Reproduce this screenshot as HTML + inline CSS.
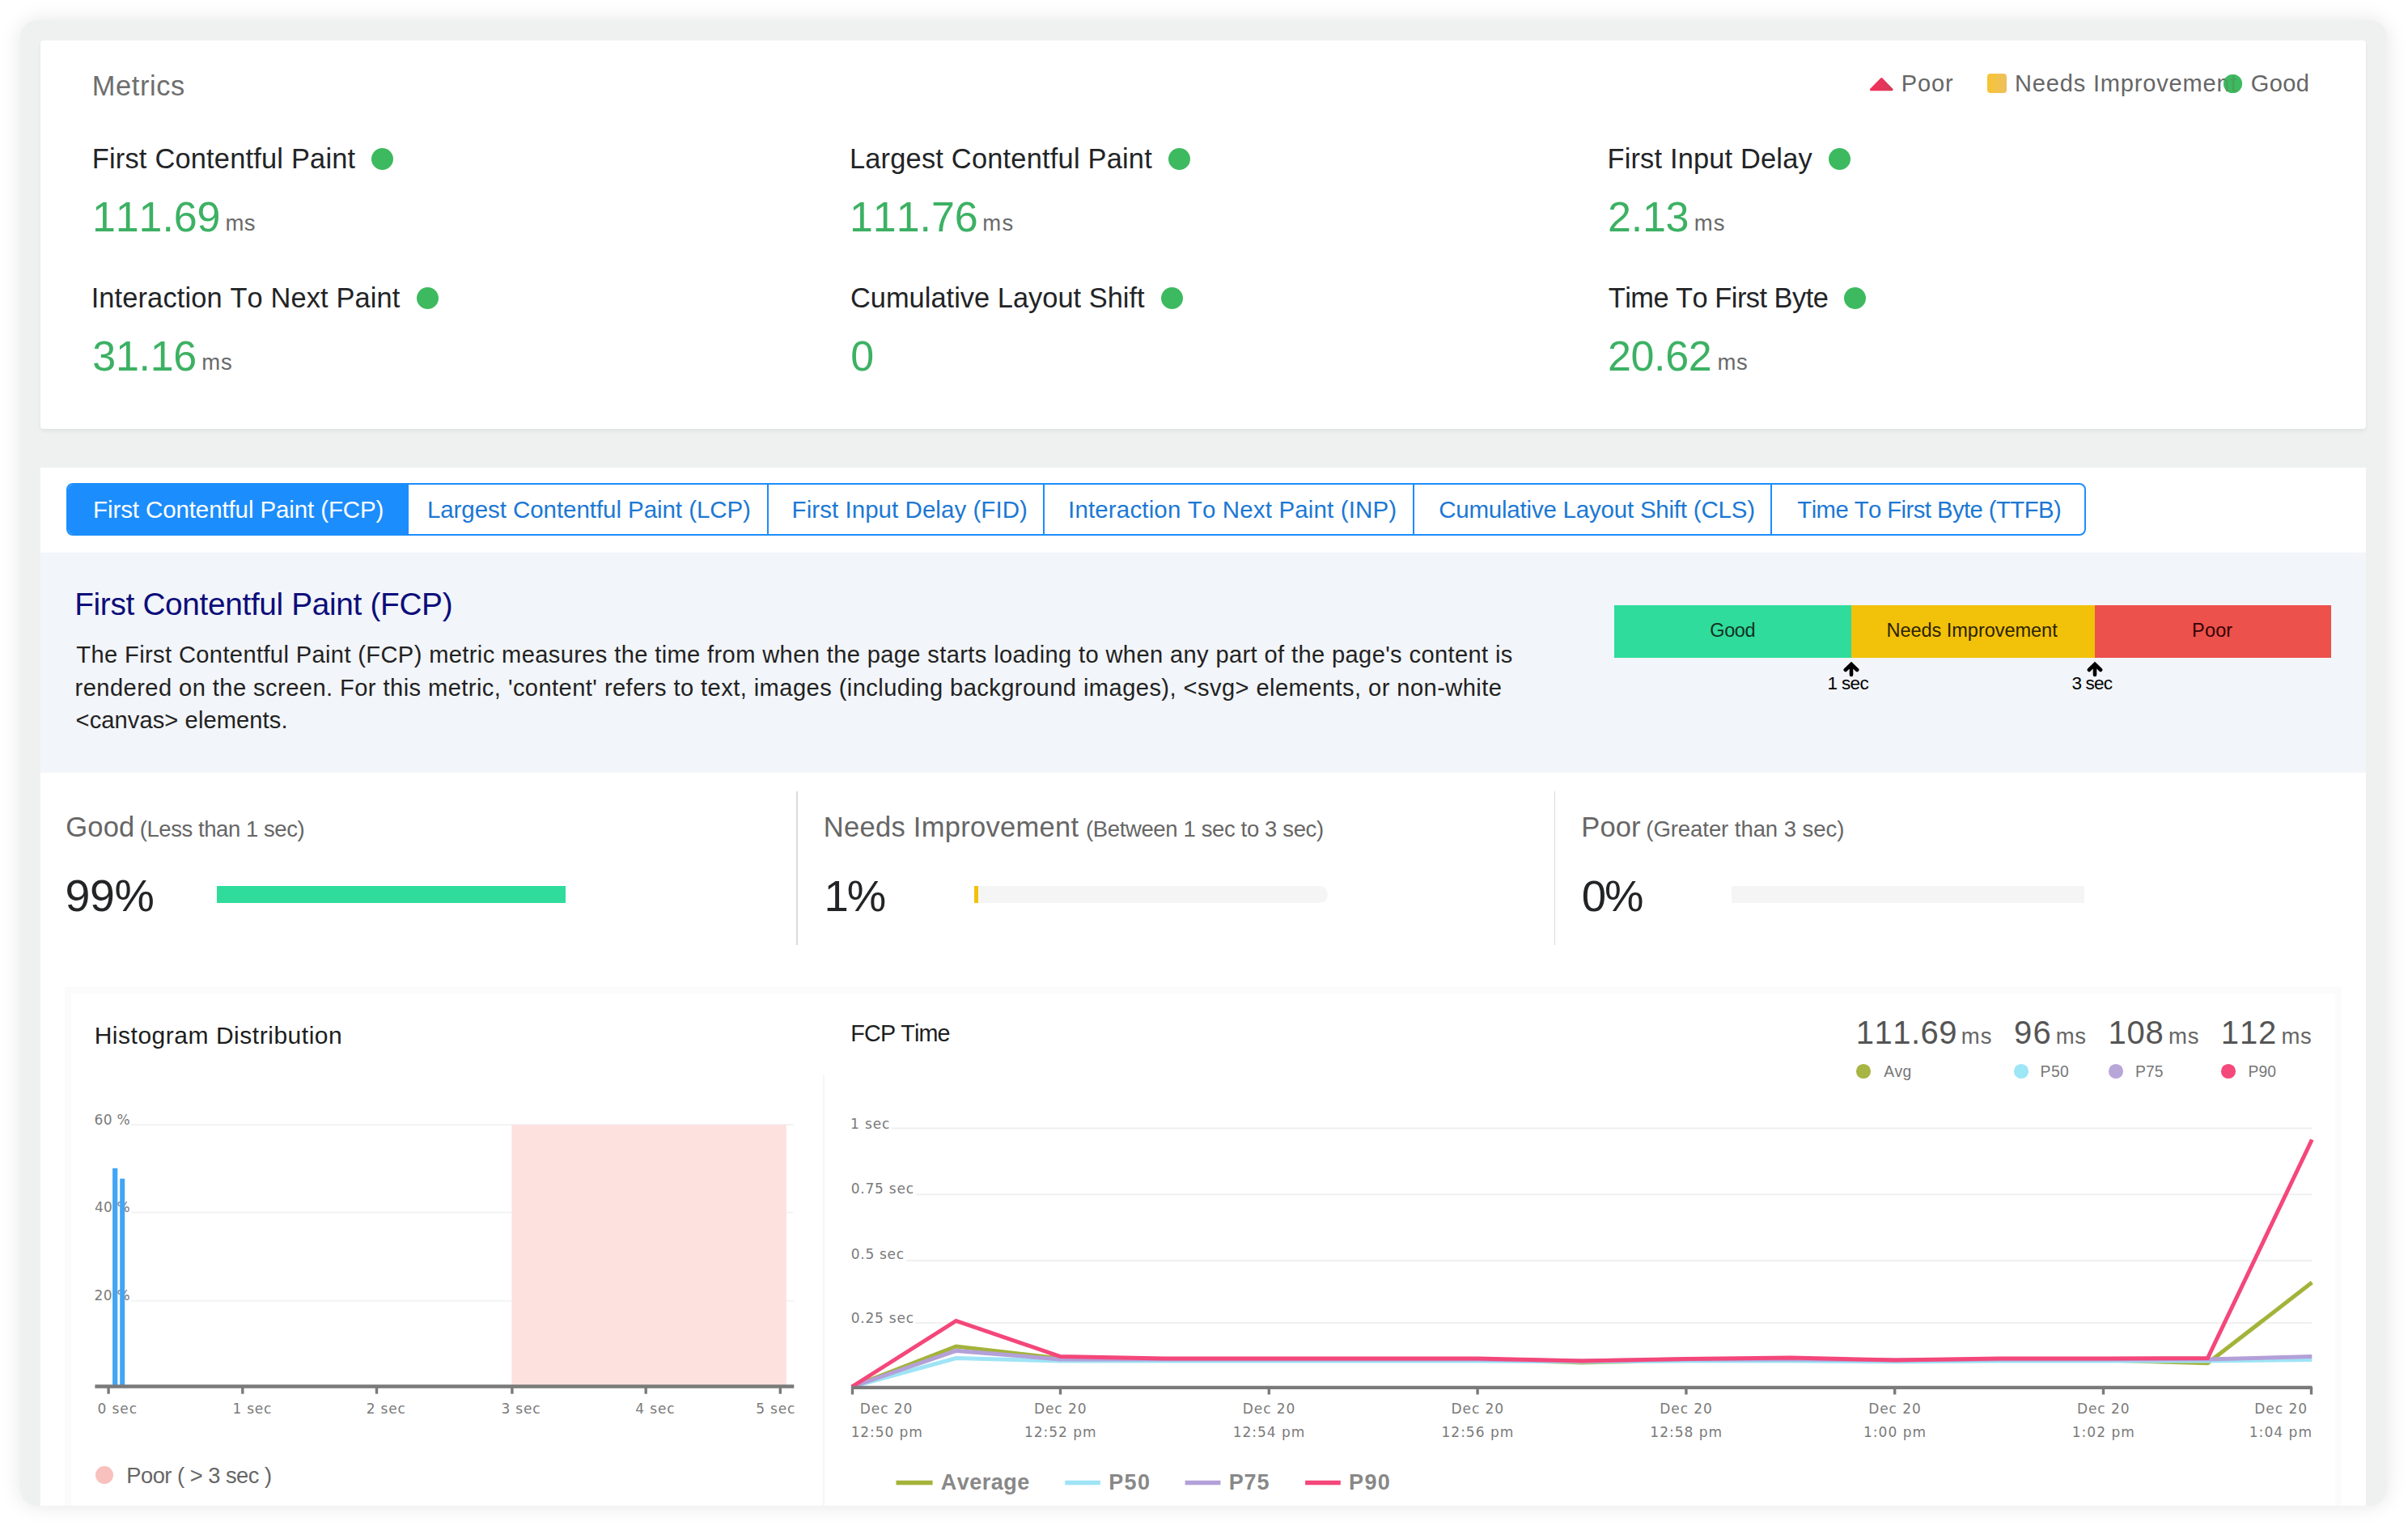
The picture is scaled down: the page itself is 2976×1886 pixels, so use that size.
<!DOCTYPE html>
<html lang="en"><head><meta charset="utf-8"><title>Metrics</title>
<style>
html,body{margin:0;padding:0;background:#fff;}
body{width:2976px;height:1886px;position:relative;overflow:hidden;font-family:"Liberation Sans",sans-serif;}
#frame{position:absolute;left:25px;top:25px;width:2925px;height:1836px;border-radius:21px;background:#eff1f1;box-shadow:0 0 26px rgba(0,0,0,0.10);overflow:hidden;}
#in{position:absolute;left:-25px;top:-25px;width:2976px;height:1886px;}
.t{position:absolute;white-space:pre;line-height:normal;font-kerning:none;}
.b{position:absolute;}
</style></head><body>
<div id="frame"><div id="in">
<div class="b" style="left:50px;top:50px;width:2874.00px;height:479.50px;background:#fff;box-shadow:0 3px 5px rgba(0,0,0,0.06);border-radius:4px;"></div>
<span class="t" style="left:113.78px;top:87.40px;font-size:34.4px;color:#6e6e6e;letter-spacing:0.604px;">Metrics</span>
<span class="t" style="left:113.78px;top:176.80px;font-size:34.4px;color:#222426;letter-spacing:0.203px;">First Contentful Paint</span>
<div class="b" style="left:459.00px;top:182.90px;width:27.4px;height:27.4px;border-radius:50%;background:#3dba5f;"></div>
<span class="t" style="left:114.04px;top:237.60px;font-size:52px;color:#3cb163;letter-spacing:-0.125px;">111.69</span>
<span class="t" style="left:278.47px;top:259.60px;font-size:27.5px;color:#6a6a6a;letter-spacing:0.262px;">ms</span>
<span class="t" style="left:112.63px;top:349.00px;font-size:34.4px;color:#222426;letter-spacing:0.135px;">Interaction To Next Paint</span>
<div class="b" style="left:514.50px;top:355.10px;width:27.4px;height:27.4px;border-radius:50%;background:#3dba5f;"></div>
<span class="t" style="left:114.32px;top:409.80px;font-size:52px;color:#3cb163;letter-spacing:-0.315px;">31.16</span>
<span class="t" style="left:249.37px;top:431.80px;font-size:27.5px;color:#6a6a6a;letter-spacing:0.662px;">ms</span>
<span class="t" style="left:1049.88px;top:176.80px;font-size:34.4px;color:#222426;letter-spacing:0.213px;">Largest Contentful Paint</span>
<div class="b" style="left:1443.90px;top:182.90px;width:27.4px;height:27.4px;border-radius:50%;background:#3dba5f;"></div>
<span class="t" style="left:1050.04px;top:237.60px;font-size:52px;color:#3cb163;letter-spacing:-0.080px;">111.76</span>
<span class="t" style="left:1214.17px;top:259.60px;font-size:27.5px;color:#6a6a6a;letter-spacing:1.362px;">ms</span>
<span class="t" style="left:1050.95px;top:349.00px;font-size:34.4px;color:#222426;letter-spacing:0.023px;">Cumulative Layout Shift</span>
<div class="b" style="left:1434.80px;top:355.10px;width:27.4px;height:27.4px;border-radius:50%;background:#3dba5f;"></div>
<span class="t" style="left:1051.14px;top:409.80px;font-size:52px;color:#3cb163;">0</span>
<span class="t" style="left:1986.48px;top:176.80px;font-size:34.4px;color:#222426;letter-spacing:0.178px;">First Input Delay</span>
<div class="b" style="left:2259.60px;top:182.90px;width:27.4px;height:27.4px;border-radius:50%;background:#3dba5f;"></div>
<span class="t" style="left:1987.08px;top:237.60px;font-size:52px;color:#3cb163;letter-spacing:-0.269px;">2.13</span>
<span class="t" style="left:2093.77px;top:259.60px;font-size:27.5px;color:#6a6a6a;letter-spacing:1.062px;">ms</span>
<span class="t" style="left:1987.73px;top:349.00px;font-size:34.4px;color:#222426;letter-spacing:-0.515px;">Time To First Byte</span>
<div class="b" style="left:2278.70px;top:355.10px;width:27.4px;height:27.4px;border-radius:50%;background:#3dba5f;"></div>
<span class="t" style="left:1987.08px;top:409.80px;font-size:52px;color:#3cb163;letter-spacing:-0.399px;">20.62</span>
<span class="t" style="left:2122.47px;top:431.80px;font-size:27.5px;color:#6a6a6a;letter-spacing:0.562px;">ms</span>
<svg class="b" style="left:2306px;top:90px" width="40" height="28" viewBox="0 0 40 28"><defs><linearGradient id="tg" x1="0" y1="0" x2="1" y2="0"><stop offset="0" stop-color="#f5305d"/><stop offset="1" stop-color="#d63a58"/></linearGradient></defs><path d="M19.3 7.6 L32.2 20.8 L6.4 20.8 Z" fill="url(#tg)" stroke="url(#tg)" stroke-width="3" stroke-linejoin="round"/></svg>
<span class="t" style="left:2349.72px;top:87.30px;font-size:29px;color:#666;letter-spacing:0.868px;">Poor</span>
<div class="b" style="left:2456.4px;top:91.4px;width:23.90px;height:24.00px;background:linear-gradient(90deg,#f7c434,#edc05e);border-radius:4px;"></div>
<div class="b" style="left:2747.80px;top:91.70px;width:23.2px;height:23.2px;border-radius:50%;background:#3dba5f;"></div>
<span class="t" style="left:2490.02px;top:87.30px;font-size:29px;color:#666;letter-spacing:0.834px;">Needs Improvement</span>
<div class="b" style="left:2747.80px;top:91.70px;width:23.2px;height:23.2px;border-radius:50%;background:rgba(61,186,95,0.72);"></div>
<span class="t" style="left:2781.84px;top:87.30px;font-size:29px;color:#666;letter-spacing:0.395px;">Good</span>
<div class="b" style="left:50px;top:577.5px;width:2874.00px;height:1322.50px;background:#fff;"></div>
<div class="b" style="left:82px;top:597.3px;width:2496px;height:64.4px;border:2px solid #1c8dfc;border-radius:8px;box-sizing:border-box;background:#fff;overflow:hidden;"><div class="b" style="left:-2px;top:-2px;width:423px;height:66px;background:#1c8dfc;"></div><div class="b" style="left:864.0px;top:0;width:2px;height:64px;background:#1c8dfc;"></div><div class="b" style="left:1205.4px;top:0;width:2px;height:64px;background:#1c8dfc;"></div><div class="b" style="left:1662.0px;top:0;width:2px;height:64px;background:#1c8dfc;"></div><div class="b" style="left:2104.0px;top:0;width:2px;height:64px;background:#1c8dfc;"></div></div>
<span class="t" style="left:115.08px;top:613.20px;font-size:29.5px;color:#fff;letter-spacing:-0.109px;">First Contentful Paint (FCP)</span>
<span class="t" style="left:527.88px;top:613.20px;font-size:29.5px;color:#1c78d4;letter-spacing:-0.058px;">Largest Contentful Paint (LCP)</span>
<span class="t" style="left:978.58px;top:613.20px;font-size:29.5px;color:#1c78d4;letter-spacing:0.051px;">First Input Delay (FID)</span>
<span class="t" style="left:1320.08px;top:613.20px;font-size:29.5px;color:#1c78d4;letter-spacing:0.146px;">Interaction To Next Paint (INP)</span>
<span class="t" style="left:1778.20px;top:613.20px;font-size:29.5px;color:#1c78d4;letter-spacing:-0.213px;">Cumulative Layout Shift (CLS)</span>
<span class="t" style="left:2221.34px;top:614.20px;font-size:29.25px;color:#1c78d4;letter-spacing:-0.552px;">Time To First Byte (TTFB)</span>
<div class="b" style="left:50px;top:683px;width:2874.00px;height:271.50px;background:#f2f5f9;"></div>
<span class="t" style="left:92.22px;top:724.80px;font-size:38.8px;color:#0d0d7a;letter-spacing:-0.338px;">First Contentful Paint (FCP)</span>
<span class="t" style="left:94.35px;top:792.90px;font-size:29.1px;color:#222;letter-spacing:0.370px;">The First Contentful Paint (FCP) metric measures the time from when the page starts loading to when any part of the page&#x27;s content is</span>
<span class="t" style="left:92.57px;top:833.50px;font-size:29.1px;color:#222;letter-spacing:0.436px;">rendered on the screen. For this metric, &#x27;content&#x27; refers to text, images (including background images), &lt;svg&gt; elements, or non-white</span>
<span class="t" style="left:93.56px;top:874.10px;font-size:29.1px;color:#222;letter-spacing:0.092px;">&lt;canvas&gt; elements.</span>
<div class="b" style="left:1995.2px;top:747.9px;width:292.60px;height:64.80px;background:#2fdc9c;"></div>
<div class="b" style="left:2287.8px;top:747.9px;width:301.20px;height:64.80px;background:#f2c10a;"></div>
<div class="b" style="left:2589px;top:747.9px;width:292.20px;height:64.80px;background:#ec514c;"></div>
<span class="t" style="left:2113.32px;top:766.00px;font-size:23.5px;color:#12301f;letter-spacing:-0.397px;">Good</span>
<span class="t" style="left:2331.47px;top:766.00px;font-size:23.5px;color:#2a2200;letter-spacing:-0.024px;">Needs Improvement</span>
<span class="t" style="left:2709.07px;top:766.00px;font-size:23.5px;color:#300;letter-spacing:0.160px;">Poor</span>
<svg class="b" style="left:2276.3px;top:816.6px" width="24" height="22" viewBox="0 0 24 22"><path d="M12 4.4 L12 16.9 M4.8 11 L12 3.9 L19.2 11" fill="none" stroke="#000" stroke-width="4.6" stroke-linecap="round" stroke-linejoin="miter"/></svg>
<svg class="b" style="left:2577.4px;top:816.6px" width="24" height="22" viewBox="0 0 24 22"><path d="M12 4.4 L12 16.9 M4.8 11 L12 3.9 L19.2 11" fill="none" stroke="#000" stroke-width="4.6" stroke-linecap="round" stroke-linejoin="miter"/></svg>
<span class="t" style="left:2258.39px;top:831.70px;font-size:22.5px;color:#000;letter-spacing:-0.593px;">1 sec</span>
<span class="t" style="left:2560.44px;top:831.70px;font-size:22.5px;color:#000;letter-spacing:-0.807px;">3 sec</span>
<div class="b" style="left:984.3px;top:978px;width:1.40px;height:189.60px;background:#dcdcdc;"></div>
<div class="b" style="left:1921px;top:978px;width:1.40px;height:189.60px;background:#dcdcdc;"></div>
<span class="t" style="left:81.26px;top:1003.20px;font-size:34.5px;color:#666;letter-spacing:0.187px;">Good</span>
<span class="t" style="left:172.69px;top:1009.20px;font-size:27.5px;color:#666;letter-spacing:-0.433px;">(Less than 1 sec)</span>
<span class="t" style="left:1017.77px;top:1003.20px;font-size:34.5px;color:#666;letter-spacing:0.297px;">Needs Improvement</span>
<span class="t" style="left:1341.99px;top:1009.20px;font-size:27.5px;color:#666;letter-spacing:-0.371px;">(Between 1 sec to 3 sec)</span>
<span class="t" style="left:1954.37px;top:1003.20px;font-size:34.5px;color:#666;letter-spacing:0.109px;">Poor</span>
<span class="t" style="left:2034.29px;top:1009.20px;font-size:27.5px;color:#666;letter-spacing:-0.056px;">(Greater than 3 sec)</span>
<span class="t" style="left:80.40px;top:1074.60px;font-size:55.5px;color:#222426;letter-spacing:-0.251px;">99%</span>
<span class="t" style="left:1018.55px;top:1075.60px;font-size:54.5px;color:#222426;letter-spacing:-2.076px;">1%</span>
<span class="t" style="left:1954.87px;top:1075.60px;font-size:54.5px;color:#222426;letter-spacing:-2.098px;">0%</span>
<div class="b" style="left:267.9px;top:1094.5px;width:431.10px;height:21.50px;background:#2fdc9c;"></div>
<div class="b" style="left:1204.2px;top:1094.5px;width:437.20px;height:21.50px;background:#f5f5f5;border-radius:0 11px 11px 0;"></div>
<div class="b" style="left:1204.2px;top:1094.5px;width:5.30px;height:21.50px;background:#f2c10a;"></div>
<div class="b" style="left:2140.4px;top:1094.5px;width:435.60px;height:21.50px;background:#f5f5f5;"></div>
<div class="b" style="left:80px;top:1220px;width:2814.00px;height:680.00px;background:#fff;border:8px solid #fbfbfb;box-sizing:border-box;"></div>
<div class="b" style="left:1016.8px;top:1328px;width:2.60px;height:572.00px;background:#f6f6f6;"></div>
<span class="t" style="left:116.64px;top:1263.30px;font-size:30px;color:#1c1e21;letter-spacing:0.525px;">Histogram Distribution</span>
<span class="t" style="left:1051.34px;top:1261.00px;font-size:28.75px;color:#1c1e21;letter-spacing:-0.877px;">FCP Time</span>
<span class="t" style="left:2293.65px;top:1254.30px;font-size:40px;color:#555;letter-spacing:0.500px;">111.69</span>
<span class="t" style="left:2423.77px;top:1265.30px;font-size:27.5px;color:#666;letter-spacing:0.962px;">ms</span>
<div class="b" style="left:2294.25px;top:1314.95px;width:17.7px;height:17.7px;border-radius:50%;background:#a7b542;"></div>
<span class="t" style="left:2328.26px;top:1313.60px;font-size:19.3px;color:#777;letter-spacing:0.412px;">Avg</span>
<span class="t" style="left:2489.12px;top:1254.30px;font-size:40px;color:#555;letter-spacing:1.041px;">96</span>
<span class="t" style="left:2540.77px;top:1265.30px;font-size:27.5px;color:#666;letter-spacing:0.562px;">ms</span>
<div class="b" style="left:2489.25px;top:1314.95px;width:17.7px;height:17.7px;border-radius:50%;background:#9de6f5;"></div>
<span class="t" style="left:2521.62px;top:1313.60px;font-size:19.3px;color:#777;letter-spacing:0.448px;">P50</span>
<span class="t" style="left:2605.55px;top:1254.30px;font-size:40px;color:#555;letter-spacing:0.773px;">108</span>
<span class="t" style="left:2679.97px;top:1265.30px;font-size:27.5px;color:#666;letter-spacing:0.962px;">ms</span>
<div class="b" style="left:2606.25px;top:1314.95px;width:17.7px;height:17.7px;border-radius:50%;background:#b9a6d9;"></div>
<span class="t" style="left:2638.92px;top:1313.60px;font-size:19.3px;color:#777;letter-spacing:0.177px;">P75</span>
<span class="t" style="left:2744.85px;top:1254.30px;font-size:40px;color:#555;letter-spacing:0.860px;">112</span>
<span class="t" style="left:2819.47px;top:1265.30px;font-size:27.5px;color:#666;letter-spacing:0.662px;">ms</span>
<div class="b" style="left:2745.45px;top:1314.95px;width:17.7px;height:17.7px;border-radius:50%;background:#f4497b;"></div>
<span class="t" style="left:2778.42px;top:1313.60px;font-size:19.3px;color:#777;letter-spacing:0.148px;">P90</span>
<span class="t" style="left:116.61px;top:1373.50px;font-size:17px;color:#7a7a7a;letter-spacing:0.279px;font-family:'DejaVu Sans','Liberation Sans',sans-serif;">60 %</span>
<span class="t" style="left:116.97px;top:1482.00px;font-size:17px;color:#7a7a7a;letter-spacing:0.160px;font-family:'DejaVu Sans','Liberation Sans',sans-serif;">40 %</span>
<span class="t" style="left:116.55px;top:1591.00px;font-size:17px;color:#7a7a7a;letter-spacing:0.298px;font-family:'DejaVu Sans','Liberation Sans',sans-serif;">20 %</span>
<svg class="b" style="left:0;top:0" width="2976" height="1886" viewBox="0 0 2976 1886">
<line x1="162" x2="981.3" y1="1390" y2="1390" stroke="#f3f3f3" stroke-width="2"/>
<line x1="162" x2="981.3" y1="1498.6" y2="1498.6" stroke="#f3f3f3" stroke-width="2"/>
<line x1="162" x2="981.3" y1="1607.8" y2="1607.8" stroke="#f3f3f3" stroke-width="2"/>
<rect x="632.4" y="1390" width="339.4" height="322" fill="#fde1df"/>
<rect x="139.1" y="1443.8" width="6.2" height="269" fill="#42a5f5"/>
<rect x="148.2" y="1456.7" width="6" height="256" fill="#42a5f5"/>
<line x1="117.4" x2="981.3" y1="1713.5" y2="1713.5" stroke="#7a7a7a" stroke-width="4.4"/>
<line x1="134.1" x2="134.1" y1="1713" y2="1722.7" stroke="#7a7a7a" stroke-width="3.4"/>
<line x1="299.8" x2="299.8" y1="1713" y2="1722.7" stroke="#7a7a7a" stroke-width="3.4"/>
<line x1="465.5" x2="465.5" y1="1713" y2="1722.7" stroke="#7a7a7a" stroke-width="3.4"/>
<line x1="632.9" x2="632.9" y1="1713" y2="1722.7" stroke="#7a7a7a" stroke-width="3.4"/>
<line x1="798.2" x2="798.2" y1="1713" y2="1722.7" stroke="#7a7a7a" stroke-width="3.4"/>
<line x1="964.3" x2="964.3" y1="1713" y2="1722.7" stroke="#7a7a7a" stroke-width="3.4"/>
<line x1="1101.7" x2="2857.4" y1="1394.6" y2="1394.6" stroke="#f0f0f0" stroke-width="2"/>
<line x1="1132" x2="2857.4" y1="1476.2" y2="1476.2" stroke="#f0f0f0" stroke-width="2"/>
<line x1="1120" x2="2857.4" y1="1558" y2="1558" stroke="#f0f0f0" stroke-width="2"/>
<line x1="1132" x2="2857.4" y1="1635" y2="1635" stroke="#f0f0f0" stroke-width="2"/>
<polyline points="1052.7,1714.0 1181.6,1664.0 1310.5,1679.0 1439.4,1680.0 1568.3,1680.0 1697.2,1680.0 1826.1,1680.0 1955.0,1684.0 2083.9,1681.0 2212.8,1680.0 2341.7,1682.0 2470.6,1680.0 2599.5,1681.0 2728.4,1684.8 2857.3,1585.1" fill="none" stroke="#a3b33a" stroke-width="5" stroke-linejoin="miter"/>
<polyline points="1052.7,1714.0 1181.6,1678.6 1310.5,1682.0 1439.4,1682.0 1568.3,1682.0 1697.2,1682.0 1826.1,1682.0 1955.0,1683.0 2083.9,1682.0 2212.8,1682.0 2341.7,1683.0 2470.6,1682.0 2599.5,1682.0 2728.4,1682.0 2857.3,1680.6" fill="none" stroke="#9ee4f6" stroke-width="5" stroke-linejoin="miter"/>
<polyline points="1052.7,1714.0 1181.6,1669.4 1310.5,1680.0 1439.4,1680.0 1568.3,1680.0 1697.2,1680.0 1826.1,1680.0 1955.0,1682.0 2083.9,1680.0 2212.8,1680.0 2341.7,1681.0 2470.6,1680.0 2599.5,1680.0 2728.4,1680.0 2857.3,1676.5" fill="none" stroke="#b3a0d8" stroke-width="5" stroke-linejoin="miter"/>
<polyline points="1052.7,1714.0 1181.6,1632.5 1310.5,1676.5 1439.4,1679.0 1568.3,1679.0 1697.2,1679.0 1826.1,1679.0 1955.0,1682.0 2083.9,1679.5 2212.8,1678.0 2341.7,1681.0 2470.6,1679.0 2599.5,1679.0 2728.4,1678.6 2857.3,1408.5" fill="none" stroke="#f4477a" stroke-width="5" stroke-linejoin="miter"/>
<line x1="1052.7" x2="2857.4" y1="1714.9" y2="1714.9" stroke="#7a7a7a" stroke-width="4.4"/>
<line x1="1053.5" x2="1053.5" y1="1714" y2="1723.5" stroke="#7a7a7a" stroke-width="3.4"/>
<line x1="1310.5" x2="1310.5" y1="1714" y2="1723.5" stroke="#7a7a7a" stroke-width="3.4"/>
<line x1="1568.3" x2="1568.3" y1="1714" y2="1723.5" stroke="#7a7a7a" stroke-width="3.4"/>
<line x1="1826.1" x2="1826.1" y1="1714" y2="1723.5" stroke="#7a7a7a" stroke-width="3.4"/>
<line x1="2083.9" x2="2083.9" y1="1714" y2="1723.5" stroke="#7a7a7a" stroke-width="3.4"/>
<line x1="2341.7" x2="2341.7" y1="1714" y2="1723.5" stroke="#7a7a7a" stroke-width="3.4"/>
<line x1="2599.5" x2="2599.5" y1="1714" y2="1723.5" stroke="#7a7a7a" stroke-width="3.4"/>
<line x1="2856.5" x2="2856.5" y1="1714" y2="1723.5" stroke="#7a7a7a" stroke-width="3.4"/>
<line x1="1107.5" x2="1152.6" y1="1832.4" y2="1832.4" stroke="#a3b33a" stroke-width="5.5"/>
<line x1="1316.2" x2="1359.9" y1="1832.4" y2="1832.4" stroke="#9ee4f6" stroke-width="5.5"/>
<line x1="1464.6" x2="1508.4" y1="1832.4" y2="1832.4" stroke="#b3a0d8" stroke-width="5.5"/>
<line x1="1613.1" x2="1656.8" y1="1832.4" y2="1832.4" stroke="#f4477a" stroke-width="5.5"/>
</svg>
<span class="t" style="left:120.48px;top:1730.50px;font-size:17px;color:#7a7a7a;letter-spacing:0.923px;font-family:'DejaVu Sans','Liberation Sans',sans-serif;">0 sec</span>
<span class="t" style="left:287.53px;top:1730.50px;font-size:17px;color:#7a7a7a;letter-spacing:0.735px;font-family:'DejaVu Sans','Liberation Sans',sans-serif;">1 sec</span>
<span class="t" style="left:452.65px;top:1730.50px;font-size:17px;color:#7a7a7a;letter-spacing:0.829px;font-family:'DejaVu Sans','Liberation Sans',sans-serif;">2 sec</span>
<span class="t" style="left:619.51px;top:1730.50px;font-size:17px;color:#7a7a7a;letter-spacing:0.792px;font-family:'DejaVu Sans','Liberation Sans',sans-serif;">3 sec</span>
<span class="t" style="left:785.27px;top:1730.50px;font-size:17px;color:#7a7a7a;letter-spacing:0.850px;font-family:'DejaVu Sans','Liberation Sans',sans-serif;">4 sec</span>
<span class="t" style="left:934.29px;top:1730.50px;font-size:17px;color:#7a7a7a;letter-spacing:0.796px;font-family:'DejaVu Sans','Liberation Sans',sans-serif;">5 sec</span>
<div class="b" style="left:117.70px;top:1812.00px;width:22px;height:22px;border-radius:50%;background:#f8c1bd;"></div>
<span class="t" style="left:156.36px;top:1807.50px;font-size:27.25px;color:#666;letter-spacing:-0.494px;">Poor ( &gt; 3 sec )</span>
<span class="t" style="left:1051.03px;top:1378.80px;font-size:17px;color:#7a7a7a;letter-spacing:0.885px;font-family:'DejaVu Sans','Liberation Sans',sans-serif;">1 sec</span>
<span class="t" style="left:1051.78px;top:1459.40px;font-size:17px;color:#7a7a7a;letter-spacing:0.765px;font-family:'DejaVu Sans','Liberation Sans',sans-serif;">0.75 sec</span>
<span class="t" style="left:1051.78px;top:1540.00px;font-size:17px;color:#7a7a7a;letter-spacing:0.695px;font-family:'DejaVu Sans','Liberation Sans',sans-serif;">0.5 sec</span>
<span class="t" style="left:1051.78px;top:1618.50px;font-size:17px;color:#7a7a7a;letter-spacing:0.765px;font-family:'DejaVu Sans','Liberation Sans',sans-serif;">0.25 sec</span>
<span class="t" style="left:1062.83px;top:1730.80px;font-size:17px;color:#7a7a7a;letter-spacing:0.933px;font-family:'DejaVu Sans','Liberation Sans',sans-serif;">Dec 20</span>
<span class="t" style="left:1051.63px;top:1760.10px;font-size:17px;color:#7a7a7a;letter-spacing:0.924px;font-family:'DejaVu Sans','Liberation Sans',sans-serif;">12:50 pm</span>
<span class="t" style="left:1277.93px;top:1730.80px;font-size:17px;color:#7a7a7a;letter-spacing:0.933px;font-family:'DejaVu Sans','Liberation Sans',sans-serif;">Dec 20</span>
<span class="t" style="left:1265.93px;top:1760.10px;font-size:17px;color:#7a7a7a;letter-spacing:0.995px;font-family:'DejaVu Sans','Liberation Sans',sans-serif;">12:52 pm</span>
<span class="t" style="left:1535.73px;top:1730.80px;font-size:17px;color:#7a7a7a;letter-spacing:0.933px;font-family:'DejaVu Sans','Liberation Sans',sans-serif;">Dec 20</span>
<span class="t" style="left:1523.73px;top:1760.10px;font-size:17px;color:#7a7a7a;letter-spacing:0.995px;font-family:'DejaVu Sans','Liberation Sans',sans-serif;">12:54 pm</span>
<span class="t" style="left:1793.53px;top:1730.80px;font-size:17px;color:#7a7a7a;letter-spacing:0.933px;font-family:'DejaVu Sans','Liberation Sans',sans-serif;">Dec 20</span>
<span class="t" style="left:1781.53px;top:1760.10px;font-size:17px;color:#7a7a7a;letter-spacing:0.995px;font-family:'DejaVu Sans','Liberation Sans',sans-serif;">12:56 pm</span>
<span class="t" style="left:2051.33px;top:1730.80px;font-size:17px;color:#7a7a7a;letter-spacing:0.933px;font-family:'DejaVu Sans','Liberation Sans',sans-serif;">Dec 20</span>
<span class="t" style="left:2039.33px;top:1760.10px;font-size:17px;color:#7a7a7a;letter-spacing:0.995px;font-family:'DejaVu Sans','Liberation Sans',sans-serif;">12:58 pm</span>
<span class="t" style="left:2309.13px;top:1730.80px;font-size:17px;color:#7a7a7a;letter-spacing:0.933px;font-family:'DejaVu Sans','Liberation Sans',sans-serif;">Dec 20</span>
<span class="t" style="left:2302.88px;top:1760.10px;font-size:17px;color:#7a7a7a;letter-spacing:1.047px;font-family:'DejaVu Sans','Liberation Sans',sans-serif;">1:00 pm</span>
<span class="t" style="left:2566.93px;top:1730.80px;font-size:17px;color:#7a7a7a;letter-spacing:0.933px;font-family:'DejaVu Sans','Liberation Sans',sans-serif;">Dec 20</span>
<span class="t" style="left:2560.68px;top:1760.10px;font-size:17px;color:#7a7a7a;letter-spacing:1.047px;font-family:'DejaVu Sans','Liberation Sans',sans-serif;">1:02 pm</span>
<span class="t" style="left:2786.23px;top:1730.80px;font-size:17px;color:#7a7a7a;letter-spacing:0.993px;font-family:'DejaVu Sans','Liberation Sans',sans-serif;">Dec 20</span>
<span class="t" style="left:2779.73px;top:1760.10px;font-size:17px;color:#7a7a7a;letter-spacing:1.064px;font-family:'DejaVu Sans','Liberation Sans',sans-serif;">1:04 pm</span>
<span class="t" style="left:1162.73px;top:1817.00px;font-size:27px;color:#888;letter-spacing:0.505px;font-weight:700;">Average</span>
<span class="t" style="left:1370.19px;top:1817.00px;font-size:27px;color:#888;letter-spacing:1.336px;font-weight:700;">P50</span>
<span class="t" style="left:1518.69px;top:1817.00px;font-size:27px;color:#888;letter-spacing:0.858px;font-weight:700;">P75</span>
<span class="t" style="left:1667.09px;top:1817.00px;font-size:27px;color:#888;letter-spacing:1.336px;font-weight:700;">P90</span>
</div></div>
</body></html>
